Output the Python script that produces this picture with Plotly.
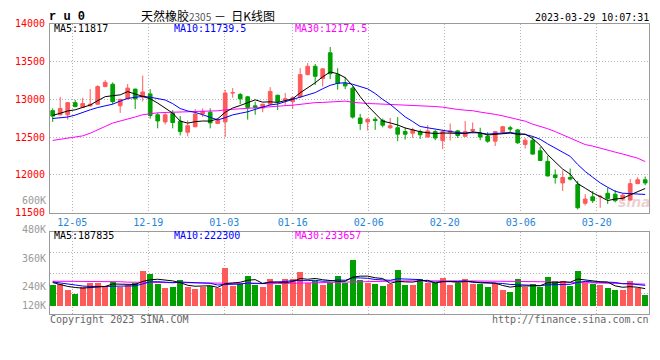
import plotly.graph_objects as go

# ---------------- data ----------------
dates = ["11-30", "12-01", "12-02", "12-05", "12-06", "12-07", "12-08", "12-09", "12-12", "12-13",
         "12-14", "12-15", "12-16", "12-19", "12-20", "12-21", "12-22", "12-23", "12-26", "12-27",
         "12-28", "12-29", "12-30", "01-03", "01-04", "01-05", "01-06", "01-09", "01-10", "01-11",
         "01-12", "01-13", "01-16", "01-17", "01-18", "01-19", "01-20", "01-30", "01-31", "02-01",
         "02-02", "02-03", "02-06", "02-07", "02-08", "02-09", "02-10", "02-13", "02-14", "02-15",
         "02-16", "02-17", "02-20", "02-21", "02-22", "02-23", "02-24", "02-27", "02-28", "03-01",
         "03-02", "03-03", "03-06", "03-07", "03-08", "03-09", "03-10", "03-13", "03-14", "03-15",
         "03-16", "03-17", "03-20", "03-21", "03-22", "03-23", "03-24", "03-27", "03-28", "03-29"]

open_ = [12849, 12794, 12794, 12955, 12892, 12913, 12934, 13168, 13198, 12913,
         13006, 13134, 13028, 13070, 12794, 12700, 12815, 12709, 12564, 12636,
         12806, 12828, 12679, 12700, 13083, 13062, 13032, 12913, 12883, 12934,
         13053, 12989, 12968, 13032, 13326, 13436, 13274, 13615, 13326, 13211,
         13147, 12751, 12700, 12734, 12721, 12623, 12623, 12572, 12551, 12572,
         12500, 12572, 12453, 12564, 12581, 12509, 12585, 12551, 12509, 12445,
         12564, 12623, 12594, 12402, 12457, 12317, 12177, 11998, 11892, 11964,
         11870, 11623, 11709, 11710, 11755, 11743, 11679, 11666, 11883, 11934]
high = [12879, 13032, 12960, 12990, 13019, 13134, 13185, 13253, 13223, 13005,
        13202, 13140, 13313, 13134, 12820, 12828, 12857, 12777, 12721, 12870,
        12879, 12879, 12750, 13126, 13147, 13083, 13045, 12968, 12940, 13160,
        13060, 13083, 13040, 13411, 13479, 13466, 13410, 13691, 13411, 13296,
        13168, 12806, 12751, 12764, 12743, 12751, 12764, 12623, 12623, 12600,
        12657, 12594, 12594, 12679, 12594, 12713, 12692, 12623, 12564, 12580,
        12649, 12649, 12606, 12487, 12509, 12368, 12253, 12070, 12057, 12083,
        11921, 11743, 11785, 11730, 11828, 11798, 11755, 11943, 11968, 11977]
low = [12700, 12785, 12730, 12892, 12892, 12905, 12930, 13160, 12934, 12819,
       12995, 12870, 12972, 12743, 12615, 12666, 12615, 12521, 12509, 12630,
       12764, 12615, 12670, 12500, 13019, 12934, 12730, 12794, 12828, 12913,
       12857, 12913, 12870, 13019, 13317, 13189, 13168, 13266, 13126, 13134,
       12743, 12594, 12585, 12594, 12628, 12606, 12445, 12466, 12487, 12475,
       12495, 12457, 12338, 12453, 12487, 12505, 12547, 12457, 12423, 12381,
       12560, 12564, 12411, 12347, 12266, 12181, 11977, 11883, 11785, 11926,
       11543, 11594, 11628, 11564, 11615, 11636, 11657, 11660, 11880, 11862]
close = [12777, 12879, 12955, 12904, 12943, 12934, 13168, 13223, 12968, 12998,
         13147, 13006, 13096, 12785, 12713, 12794, 12692, 12572, 12649, 12806,
         12840, 12687, 12721, 13083, 13087, 13006, 12892, 12892, 12934, 13104,
         12968, 13006, 13019, 13326, 13436, 13304, 13402, 13338, 13211, 13177,
         12764, 12679, 12734, 12717, 12657, 12649, 12538, 12538, 12594, 12530,
         12581, 12487, 12572, 12581, 12521, 12572, 12598, 12500, 12445, 12572,
         12636, 12606, 12423, 12457, 12274, 12189, 11985, 11964, 11964, 11943,
         11564, 11679, 11657, 11715, 11687, 11657, 11730, 11883, 11934, 11892]

ma5 = [12785, 12815, 12845, 12860, 12892, 12923, 12981, 13034, 13047, 13058,
       13101, 13068, 13043, 13006, 12949, 12879, 12816, 12711, 12684, 12703,
       12712, 12711, 12741, 12827, 12884, 12917, 12958, 12992, 12962, 12966,
       12958, 12981, 13006, 13085, 13151, 13218, 13297, 13361, 13338, 13286,
       13178, 13034, 12913, 12814, 12710, 12687, 12659, 12620, 12595, 12570,
       12556, 12546, 12553, 12550, 12548, 12547, 12569, 12554, 12527, 12537,
       12550, 12552, 12536, 12539, 12479, 12390, 12266, 12174, 12075, 12009,
       11884, 11823, 11761, 11712, 11660, 11679, 11689, 11734, 11778, 11819]
ma10 = [12745, 12750, 12765, 12790, 12830, 12860, 12890, 12915, 12935, 12975,
        13012, 13025, 13039, 13027, 13004, 12990, 12942, 12877, 12845, 12826,
        12795, 12763, 12726, 12756, 12793, 12814, 12834, 12866, 12895, 12925,
        12937, 12969, 12999, 13023, 13058, 13088, 13139, 13184, 13211, 13219,
        13198, 13166, 13137, 13076, 12998, 12933, 12846, 12766, 12705, 12640,
        12622, 12603, 12586, 12573, 12559, 12551, 12557, 12554, 12539, 12543,
        12548, 12560, 12545, 12533, 12508, 12470, 12409, 12355, 12307, 12244,
        12137, 12044, 11968, 11893, 11835, 11782, 11756, 11748, 11745, 11740]
ma30 = [12455, 12470, 12485, 12500, 12515, 12550, 12590, 12640, 12685, 12710,
        12735, 12765, 12795, 12810, 12820, 12825, 12828, 12832, 12836, 12838,
        12840, 12843, 12847, 12860, 12870, 12875, 12880, 12885, 12895, 12905,
        12910, 12915, 12921, 12934, 12945, 12955, 12958, 12962, 12965, 12975,
        12960, 12947, 12943, 12940, 12936, 12932, 12928, 12925, 12922, 12918,
        12912, 12904, 12895, 12875, 12865, 12855, 12848, 12830, 12818, 12800,
        12780, 12760, 12740, 12710, 12670, 12645, 12610, 12572, 12530, 12485,
        12450, 12400, 12380, 12350, 12330, 12300, 12275, 12245, 12220, 12175]

volume = [222100, 228300, 198500, 181200, 214200, 236200, 236200, 217300, 240900, 212600,
          225200, 236200, 292700, 278600, 228300, 207900, 212600, 250300, 214200, 204800,
          212600, 220500, 209500, 306800, 220500, 229900, 269200, 225200, 214200, 255000,
          225200, 255000, 255000, 288000, 236200, 245600, 223600, 236200, 269200, 236200,
          346100, 248700, 236200, 229900, 217300, 226800, 299000, 223600, 223600, 251900,
          236200, 233000, 259700, 223600, 233000, 255000, 229900, 229900, 214200, 236200,
          198500, 189100, 255000, 214200, 229900, 214200, 264400, 245600, 245600, 217300,
          292700, 236200, 229900, 223600, 207900, 201600, 201600, 245600, 207900, 175000]
vol_ma5 = [236000, 226000, 217000, 212000, 208900, 211700, 213300, 217000, 229000, 228600,
           226400, 226400, 241500, 249100, 252200, 248700, 244000, 235500, 222700, 218000,
           218900, 220500, 212300, 230800, 234000, 237400, 247200, 250300, 231800, 238700,
           237800, 234900, 240900, 255600, 251900, 256000, 249700, 245900, 242200, 242200,
           262300, 267300, 267300, 259400, 255600, 231800, 241800, 239300, 238100, 245000,
           246900, 233700, 240900, 240900, 237100, 240900, 240200, 234300, 232400, 233000,
           221700, 213600, 218600, 218600, 217300, 220500, 235500, 233700, 239900, 237400,
           253100, 247500, 244300, 239900, 238100, 219800, 212900, 216100, 212900, 206300]
vol_ma10 = [239000, 234000, 227000, 222000, 219000, 217000, 216000, 217000, 218000, 218800,
            219100, 219900, 229300, 239000, 240400, 237600, 235200, 238500, 235900, 235100,
            233800, 232300, 223900, 226800, 226000, 228200, 233800, 231300, 231300, 236300,
            237600, 241100, 245600, 243700, 245300, 246900, 242300, 243400, 248900, 247000,
            259100, 258500, 256600, 250800, 248900, 247000, 254600, 253300, 248700, 250300,
            239300, 237800, 240100, 239500, 241000, 243900, 237000, 237600, 236600, 235100,
            231300, 226900, 226400, 225500, 225200, 221100, 224600, 226100, 229300, 227400,
            236800, 241500, 239000, 239900, 237700, 236500, 230200, 230200, 226400, 222200]
vol_ma30 = [242500, 242500, 242500, 242500, 242500, 242500, 242500, 242500, 242500, 240000,
            238000, 237000, 236500, 236500, 236000, 236000, 235500, 235500, 235000, 234000,
            233000, 232000, 231000, 231000, 230500, 230000, 230000, 230000, 230000, 230100,
            231000, 232000, 233000, 234000, 235000, 236000, 237000, 238000, 239000, 239500,
            241000, 241500, 242000, 242500, 243000, 243000, 243500, 244000, 244500, 244600,
            244500, 244500, 244500, 244300, 244200, 244200, 244100, 244100, 244100, 244100,
            243500, 242500, 242000, 241500, 241000, 240000, 239500, 239000, 238000, 237600,
            237000, 236000, 235000, 234000, 233000, 232000, 231000, 230000, 229000, 228200]

price_ticks = [11500, 12000, 12500, 13000, 13500, 14000]
price_tick_labels = ["11500", "12000", "12500", "13000", "13500", "14000"]
date_tick_labels = ["12-05", "12-19", "01-03", "01-16", "02-06", "02-20", "03-06", "03-20"]
vol_axis_labels = ["600K", "480K", "360K", "240K", "120K"]
price_legend = ["MA5:11817", "MA10:11739.5", "MA30:12174.5"]
vol_legend = ["MA5:187835", "MA10:222300", "MA30:233657"]
symbol = "r u 0"
title_name = "天然橡胶"
title_code = "2305"
title_rest = " －  日K线图"
timestamp = "2023-03-29 10:07:31"
copyright_text = "Copyright 2023 SINA.COM"
url_text = "http://finance.sina.com.cn"

# ---------------- layout constants (pixels) ----------------
W, H = 660, 360
LEFT, RIGHT = 50, 649.3
MAIN_TOP, MAIN_BOT = 18.3, 213.7
VOL_TOP, VOL_BOT = 234.3, 318.3
SLOT = 7.5          # pixels per candle
FIRST = 52.7        # pixel centre of first candle
GRID_STEP = 7.6     # pixels per trading day for the date grid
GRID_OFF = 49.5
VOL_BASE = 120000
VOL_TOP_VAL = 480000
VOL_PER_PX = (VOL_TOP_VAL - VOL_BASE) / (310.7 - VOL_TOP)
vol_label_y_px = [200.7, 230.7, 260.7, 290.0, 310.0]

MONO = "DejaVu Sans Mono"
RED = "#ff5a5a"
GREEN = "#00a000"
GRID = "#b4b4b4"
BORDER = "#9a9a9a"
DATE_BLUE = "#1f86d6"


def px_x(p):
    return p / W


def px_y(p):
    return 1 - p / H


def data_x(p):
    return (p - FIRST) / SLOT


x = list(range(len(dates)))
x_range = [data_x(LEFT), data_x(RIGHT)]
tick_idx = [dates.index(d) for d in date_tick_labels]
tick_x = [data_x(GRID_OFF + GRID_STEP * i) for i in tick_idx]

fig = go.Figure()

fig.add_trace(go.Candlestick(
    x=x, open=open_, high=high, low=low, close=close,
    increasing=dict(line=dict(color=RED, width=1), fillcolor=RED),
    decreasing=dict(line=dict(color=GREEN, width=1), fillcolor=GREEN),
    whiskerwidth=0, xaxis="x", yaxis="y", showlegend=False, hoverinfo="skip"))

for series, col in [(ma30, "#ff00ff"), (ma10, "#0000ff"), (ma5, "#000000")]:
    fig.add_trace(go.Scatter(x=x, y=series, mode="lines", line=dict(color=col, width=1),
                             xaxis="x", yaxis="y", showlegend=False, hoverinfo="skip"))

bar_colors = [RED if c >= o else GREEN for o, c in zip(open_, close)]
fig.add_trace(go.Bar(x=x, y=[v - VOL_BASE for v in volume], base=VOL_BASE,
                     marker=dict(color=bar_colors, line=dict(width=0)), width=0.8,
                     xaxis="x2", yaxis="y2", showlegend=False, hoverinfo="skip"))
for series, col in [(vol_ma30, "#ff00ff"), (vol_ma10, "#0000ff"), (vol_ma5, "#000000")]:
    fig.add_trace(go.Scatter(x=x, y=series, mode="lines", line=dict(color=col, width=1),
                             xaxis="x2", yaxis="y2", showlegend=False, hoverinfo="skip"))

vol_bottom_val = VOL_BASE - (VOL_BOT - 310.7) * VOL_PER_PX
vol_grid = [vol_bottom_val + (VOL_TOP_VAL - vol_bottom_val) * k / 4 for k in (1, 2, 3)]

axis_common = dict(showline=True, linecolor=BORDER, linewidth=1, mirror=True,
                   zeroline=False, ticks="", fixedrange=True)

fig.update_layout(
    width=W, height=H,
    margin=dict(l=0, r=0, t=0, b=0),
    paper_bgcolor="white", plot_bgcolor="white",
    bargap=0,
    xaxis=dict(domain=[px_x(LEFT), px_x(RIGHT)], range=x_range, anchor="y",
               tickvals=tick_x, ticktext=date_tick_labels,
               tickfont=dict(family=MONO, size=10, color=DATE_BLUE),
               showgrid=True, gridcolor=GRID, griddash="1px,2px", gridwidth=1,
               rangeslider=dict(visible=False), **axis_common),
    yaxis=dict(domain=[px_y(MAIN_BOT), px_y(MAIN_TOP)], range=[11500, 14000], anchor="x",
               tickvals=price_ticks, ticktext=price_tick_labels,
               tickfont=dict(family=MONO, size=10, color="#ff0000"),
               ticklabelstandoff=2,
               showgrid=True, gridcolor=GRID, griddash="1px,2px", gridwidth=1,
               **axis_common),
    xaxis2=dict(domain=[px_x(LEFT), px_x(RIGHT)], range=x_range, anchor="y2", matches="x",
                tickvals=tick_x, showticklabels=False,
                showgrid=True, gridcolor=GRID, griddash="1px,2px", gridwidth=1,
                **axis_common),
    yaxis2=dict(domain=[px_y(VOL_BOT), px_y(VOL_TOP)], range=[vol_bottom_val, VOL_TOP_VAL],
                anchor="x2", tickvals=vol_grid, showticklabels=False,
                showgrid=True, gridcolor=GRID, griddash="1px,2px", gridwidth=1,
                **axis_common),
)


def ann(text, xp, yp, color, size=10, xanchor="left", family=MONO, **kw):
    return dict(text=text, x=px_x(xp), y=px_y(yp), xref="paper", yref="paper",
                xanchor=xanchor, yanchor="middle", showarrow=False, borderpad=0,
                font=dict(family=family, size=size, color=color), **kw)


annotations = []
# header
annotations.append(ann("<b>" + symbol + "</b>", 48, 11.5, "#000000", size=12, family="Liberation Mono"))
annotations.append(ann(title_name + "<span style='font-size:10px;color:#555555'>" + title_code +
                       "</span>" + title_rest, 140, 9.5, "#000000", size=12,
                       family="Noto Sans CJK SC"))
annotations.append(ann(timestamp, 650, 11.5, "#000000", xanchor="right"))
# legends
legend_x = [53, 173, 294]
for txt, col, lx in zip(price_legend, ["#000000", "#0000ff", "#ff00ff"], legend_x):
    annotations.append(ann(txt, lx, 23.7, col))
for txt, col, lx in zip(vol_legend, ["#000000", "#0000ff", "#ff00ff"], legend_x):
    annotations.append(ann(txt, lx, 237.8, col))
# volume axis labels
for txt, yp in zip(vol_axis_labels, vol_label_y_px):
    annotations.append(ann(txt, 47, yp, "#9a9a9a", xanchor="right"))
# footer
annotations.append(ann(copyright_text, 49, 324, "#666666"))
annotations.append(ann(url_text, 650, 324, "#666666", xanchor="right"))
# watermark
annotations.append(ann("<b><i>sina</i></b>", 617, 203, "rgba(200,120,120,0.35)", size=14,
                       family="DejaVu Sans"))

fig.update_layout(annotations=annotations)

fig.write_html("out.html",
               config={"displayModeBar": False, "staticPlot": True},
               post_script="document.body.style.margin='0px';"
                           "document.body.style.padding='0px';"
                           "document.body.style.overflow='hidden';")
